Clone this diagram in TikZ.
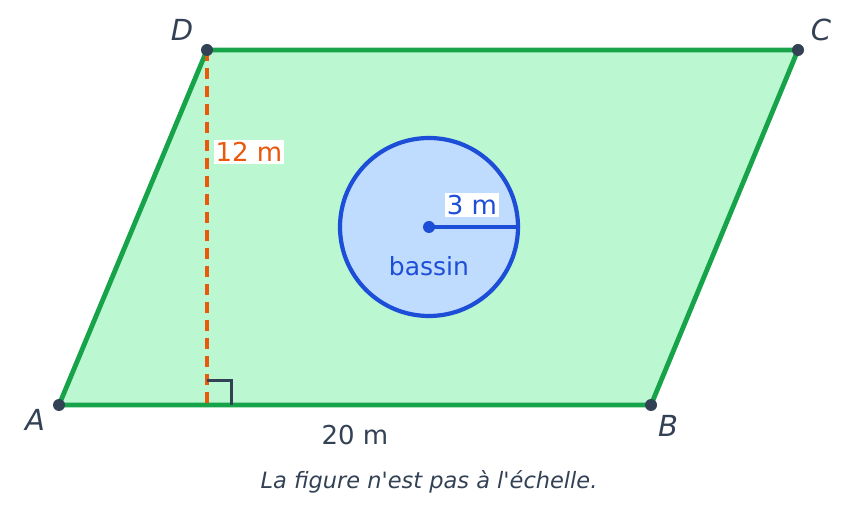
\documentclass[tikz,border=0pt]{standalone}
\usepackage{fontspec}
\setmainfont{DejaVu Sans}[Ligatures=TeXOff]
\definecolor{pgreen}{HTML}{16A34A}
\definecolor{pfill}{HTML}{BBF7D0}
\definecolor{cblue}{HTML}{1D4ED8}
\definecolor{cfill}{HTML}{BFDBFE}
\definecolor{orng}{HTML}{EA580C}
\definecolor{dark}{HTML}{334155}
\begin{document}
\begin{tikzpicture}[x=1pt,y=-1pt,
  pt/.style={circle,fill=dark,inner sep=0pt,minimum size=12pt},
  vlabel/.style={text=dark,font=\fontsize{29}{33}\selectfont\itshape},
  lbl/.style={font=\fontsize{26}{30}\selectfont,inner sep=2pt}]
\useasboundingbox (0,0) rectangle (857,526);
\coordinate (A) at (59,405);
\coordinate (B) at (651,405);
\coordinate (C) at (798,50);
\coordinate (D) at (207,50);
\coordinate (H) at (207,405);
\coordinate (O) at (429,227);
\coordinate (R) at (518,227);
\fill[pfill] (A) -- (B) -- (C) -- (D) -- cycle;
\draw[pgreen,line width=4.8pt,line join=round] (A) -- (B) -- (C) -- (D) -- cycle;
\draw[orng,line width=3.6pt,dash pattern=on 11pt off 7pt] (D) -- (H);
\draw[dark,line width=3pt] (207,381) -- (231,381) -- (231,405);
\draw[cblue,fill=cfill,line width=4.2pt] (O) circle (89);
\draw[cblue,line width=4.2pt] (O) -- (R);
\node[circle,fill=cblue,inner sep=0pt,minimum size=12pt] (o) at (O) {};
\node[pt] (a) at (A) {};
\node[pt] (b) at (B) {};
\node[pt] (c) at (C) {};
\node[pt] (d) at (D) {};
\node[vlabel] (la) at (35,420) {A};
\node[vlabel] (lb) at (668,426) {B};
\node[vlabel] (lc) at (821,30) {C};
\node[vlabel] (ld) at (182,30) {D};
\node[lbl,fill=white,text=orng] (h) at (249,152) {12 m};
\node[lbl,fill=white,text=cblue] (r) at (472,205) {3 m};
\node[lbl,text=cblue,font=\fontsize{25}{29}\selectfont] (bs) at (429,266) {bassin};
\node[lbl,text=dark] (base) at (355,435) {20 m};
\node[text=dark,font=\fontsize{22.5}{26}\selectfont\itshape] (cap) at (429,482) {La figure n'est pas à l'échelle.};
\end{tikzpicture}
\end{document}
